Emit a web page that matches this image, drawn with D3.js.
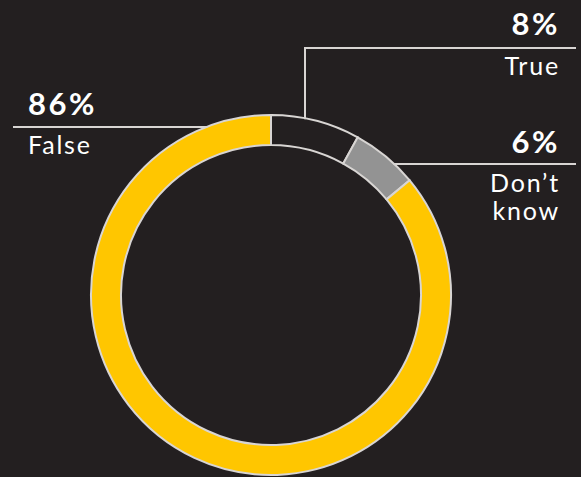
<!DOCTYPE html>
<html>
<head>
<meta charset="utf-8">
<script src="https://cdn.jsdelivr.net/npm/d3@7"></script>
<style>
  html, body { margin: 0; padding: 0; background: #231f20; }
  svg { display: block; }
  .pct { font-family: Lato, sans-serif; font-weight: 700; fill: #fff; font-size: 31px; letter-spacing: 2.5px; }
  .lbl { font-family: Lato, sans-serif; font-weight: 400; fill: #fff; font-size: 25px; letter-spacing: 1.8px; }
</style>
</head>
<body>
<div id="chart"></div>
<script>
// answers, clockwise from 12 o'clock
var categories = ["True", "Don\u2019t know", "False"]
var values = [8, 6, 86]
var pctLabels = ["8%", "6%", "86%"]
var colors = ["#231f20", "#939393", "#ffc600"]

var width = 581,
    height = 477,
    cx = 271, cy = 295,
    outerR = 180, innerR = 150

var svg = d3.select("#chart").append("svg")
    .attr("width", width)
    .attr("height", height)
    .style("background", "#231f20")

var data = categories.map(function(c, i) { return {name: c, value: values[i], pct: pctLabels[i], color: colors[i]} })

var pie = d3.pie().sort(null).value(function(d) { return d.value })
var arc = d3.arc().innerRadius(innerR).outerRadius(outerR)

var g = svg.append("g").attr("transform", "translate(" + cx + "," + cy + ")")

g.selectAll("path")
  .data(pie(data))
  .enter().append("path")
    .attr("d", arc)
    .style("fill", function(d) { return d.data.color })
    .style("stroke", "#d8d5d3")
    .style("stroke-width", 2)

// x on the outer ring for a given y (left or right side)
function ringX(y, side) {
  var dy = y - cy
  return cx + side * Math.sqrt(outerR * outerR - dy * dy)
}
function ringY(x) {
  var dx = x - cx
  return cy - Math.sqrt(outerR * outerR - dx * dx)
}

var lineStyle = function(sel) {
  sel.style("fill", "none").style("stroke", "#d8d5d3").style("stroke-width", 2)
}

// True leader: vertical up then right
var tx = 305, ty = 48
svg.append("path")
  .attr("d", "M" + tx + "," + (ringY(tx) + 1) + "V" + ty + "H" + 576)
  .call(lineStyle)

// Don't know leader
var dy = 164
svg.append("path")
  .attr("d", "M" + (ringX(dy, 1) - 1) + "," + dy + "H" + 576)
  .call(lineStyle)

// False leader
var fy = 127
svg.append("path")
  .attr("d", "M13," + fy + "H" + (ringX(fy, -1) + 1))
  .call(lineStyle)

// labels
var rightX = 560
svg.append("text").attr("class", "pct").attr("x", rightX).attr("y", 35).attr("text-anchor", "end").text(data[0].pct)
svg.append("text").attr("class", "lbl").attr("x", rightX).attr("y", 75).attr("text-anchor", "end").text(data[0].name)

svg.append("text").attr("class", "pct").attr("x", rightX).attr("y", 153).attr("text-anchor", "end").text(data[1].pct)
svg.append("text").attr("class", "lbl").attr("x", rightX).attr("y", 192).attr("text-anchor", "end").text("Don\u2019t")
svg.append("text").attr("class", "lbl").attr("x", rightX).attr("y", 220).attr("text-anchor", "end").text("know")

svg.append("text").attr("class", "pct").attr("x", 28).attr("y", 115).text(data[2].pct)
svg.append("text").attr("class", "lbl").attr("x", 28).attr("y", 154).text(data[2].name)
</script>
</body>
</html>
